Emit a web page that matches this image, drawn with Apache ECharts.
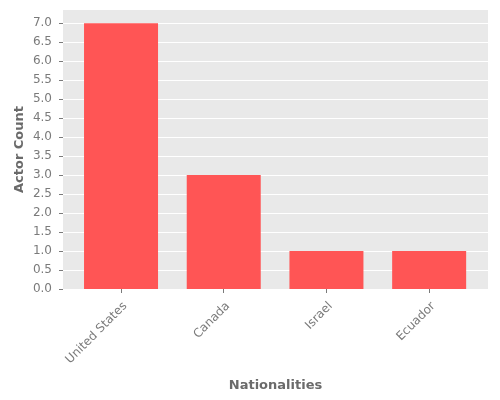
<!DOCTYPE html>
<html>
<head>
    <meta charset="utf-8">
    <title>Actor Count by Nationality</title>
    <script src="https://cdn.jsdelivr.net/npm/echarts@6/dist/echarts.min.js"></script>
</head>
<body style="margin:0">
    <div id="main" style="width: 500px;height:400px;"></div>
    <script type="text/javascript">
        var categories = ['United States', 'Canada', 'Israel', 'Ecuador'];
        var counts = [7, 3, 1, 1];
        var yTicks = [0, 0.5, 1, 1.5, 2, 2.5, 3, 3.5, 4, 4.5, 5, 5.5, 6, 6.5, 7];

        var myChart = echarts.init(document.getElementById('main'));

        // bars sit on a value axis so the matplotlib-style margins can be kept
        var barData = [];
        var catIdx = [];
        for (var i = 0; i < categories.length; i++) {
            barData.push([i, counts[i]]);
            catIdx.push(i);
        }

        var tickColor = '#7a7a7a';
        var titleColor = '#6a6a6a';

        var option = {
            backgroundColor: '#ffffff',
            textStyle: { fontFamily: 'DejaVu Sans' },
            grid: {
                left: 63, right: 12, top: 10, bottom: 111,
                show: true,
                backgroundColor: '#E9E9E9',
                borderWidth: 0
            },
            xAxis: {
                type: 'value',
                min: -0.565,
                max: 3.573,
                name: 'Nationalities',
                nameLocation: 'middle',
                nameGap: 90,
                nameMoveOverlap: false,
                nameTextStyle: { color: titleColor, fontSize: 13, fontWeight: 'bold' },
                axisLine: { show: false, onZero: false },
                splitLine: { show: false },
                axisTick: {
                    show: true, length: 4, customValues: catIdx,
                    lineStyle: { color: tickColor }
                },
                axisLabel: {
                    customValues: catIdx,
                    rotate: 45,
                    margin: 11,
                    verticalAlign: 'top',
                    fontSize: 12,
                    color: tickColor,
                    formatter: function (v) { return categories[v]; }
                }
            },
            yAxis: {
                type: 'value',
                min: 0,
                max: 7.35,
                interval: 0.5,
                name: 'Actor Count',
                nameLocation: 'middle',
                nameGap: 37,
                nameMoveOverlap: false,
                nameTextStyle: { color: titleColor, fontSize: 13, fontWeight: 'bold' },
                axisLine: { show: false, onZero: false },
                axisTick: {
                    show: true, length: 4, customValues: yTicks,
                    lineStyle: { color: tickColor }
                },
                axisLabel: {
                    customValues: yTicks,
                    margin: 11,
                    fontSize: 12,
                    color: tickColor,
                    formatter: function (v) { return v.toFixed(1); }
                },
                splitLine: { show: true, lineStyle: { color: '#ffffff', width: 1 } }
            },
            series: [{
                type: 'bar',
                data: barData,
                barWidth: 74,
                itemStyle: { color: '#FF5555' }
            }]
        };

        myChart.setOption(option);
    </script>
</body>
</html>
